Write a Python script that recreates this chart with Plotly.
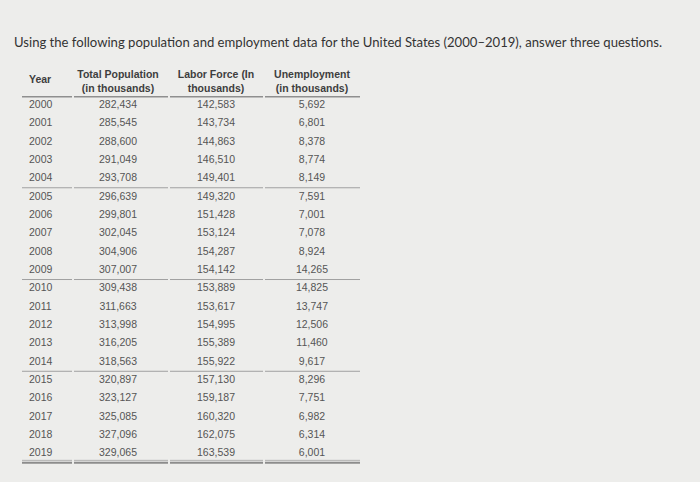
import plotly.graph_objects as go

title = "Using the following population and employment data for the United States (2000\u20132019), answer three questions."
headers = ["Year", "Total Population<br>(in thousands)", "Labor Force (In<br>thousands)", "Unemployment<br>(in thousands)"]
years = list(range(2000, 2020))
population = [282434, 285545, 288600, 291049, 293708, 296639, 299801, 302045, 304906, 307007,
              309438, 311663, 313998, 316205, 318563, 320897, 323127, 325085, 327096, 329065]
labor_force = [142583, 143734, 144863, 146510, 149401, 149320, 151428, 153124, 154287, 154142,
               153889, 153617, 154995, 155389, 155922, 157130, 159187, 160320, 162075, 163539]
unemployment = [5692, 6801, 8378, 8774, 8149, 7591, 7001, 7078, 8924, 14265,
                14825, 13747, 12506, 11460, 9617, 8296, 7751, 6982, 6314, 6001]

W, H = 700, 482
BG = "#ededeb"
row0, row_h = 105.2, 18.35
ys = [row0 + i * row_h for i in range(len(years))]
col_x = [29, 118, 216, 312]
seg = [(22, 72), (74, 168), (170, 263), (265, 360)]

num_font = dict(family="Liberation Sans, Arial, sans-serif", size=10.5, color="#555555")
hdr_font = dict(family="Liberation Sans, Arial, sans-serif", size=10.5, color="#3e3e3e")

fig = go.Figure()
fig.add_trace(go.Scatter(x=[col_x[0]] * len(years), y=ys, mode="text",
                         text=[str(y) for y in years], textposition="middle right",
                         textfont=num_font, hoverinfo="skip"))
for cx, vals in zip(col_x[1:], [population, labor_force, unemployment]):
    fig.add_trace(go.Scatter(x=[cx] * len(vals), y=ys, mode="text",
                             text=[f"{v:,}" for v in vals], textposition="middle center",
                             textfont=num_font, hoverinfo="skip"))

# headers
fig.add_trace(go.Scatter(x=[col_x[0]], y=[80.5], mode="text", text=["<b>" + headers[0] + "</b>"],
                         textposition="middle right", textfont=hdr_font, hoverinfo="skip"))
fig.add_trace(go.Scatter(x=col_x[1:], y=[82.5] * 3, mode="text",
                         text=["<b>" + h + "</b>" for h in headers[1:]],
                         textposition="middle center", textfont=hdr_font, hoverinfo="skip"))

shapes = []
def hline(y, w, c):
    for a, b in seg:
        shapes.append(dict(type="line", xref="x", yref="y", x0=a, x1=b, y0=y, y1=y,
                           line=dict(color=c, width=w)))

hline(96.8, 1.5, "#8f8f8f")
for k in (5, 10, 15):
    hline((ys[k - 1] + ys[k]) / 2, 1, "#a0a0a0")
hline(ys[-1] + 6.5, 1, "#b0b0b0")
hline(ys[-1] + 8.8, 2, "#8c8c8c")

fig.update_layout(
    width=W, height=H,
    margin=dict(l=0, r=0, t=0, b=0),
    paper_bgcolor=BG, plot_bgcolor=BG,
    showlegend=False,
    xaxis=dict(range=[0, W], visible=False, fixedrange=True),
    yaxis=dict(range=[H, 0], visible=False, fixedrange=True),
    shapes=shapes,
    annotations=[dict(x=12, y=42, xref="x", yref="y", text=title, showarrow=False,
                      xanchor="left", yanchor="middle",
                      font=dict(family="Lato, Open Sans, sans-serif", size=13.1, color="#333333"))],
)

fig.write_html("out.html", config={"displayModeBar": False},
               post_script="document.body.style.margin='0';document.body.style.overflow='hidden';"
                           "document.body.style.background='" + BG + "';")
